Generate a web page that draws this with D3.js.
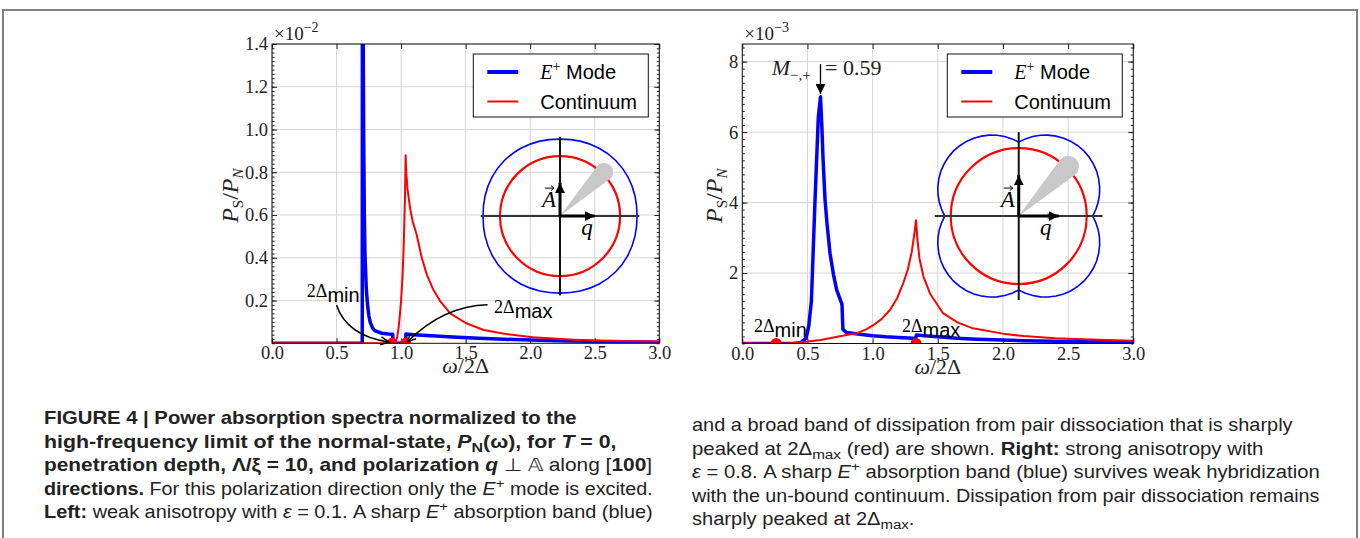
<!DOCTYPE html>
<html>
<head>
<meta charset="utf-8">
<script src="https://cdn.jsdelivr.net/npm/d3@7"></script>
<style>
  body { margin: 0; background: #fff; }
  svg { display: block; }
</style>
</head>
<body>
<div id="chart"></div>
<script>
// ---- values ----
const xTickVals = [0, 0.5, 1.0, 1.5, 2.0, 2.5, 3.0];
const leftYTickVals = [0.2, 0.4, 0.6, 0.8, 1.0, 1.2, 1.4];
const rightYTickVals = [2, 4, 6, 8];

// left panel (eps = 0.1), y in units of 1e-2
const leftModeX = [0, 0.699, 0.700, 0.705, 0.710, 0.715, 0.720, 0.730, 0.740, 0.750, 0.760, 0.780, 0.800, 0.850, 0.900, 0.935, 0.936, 1.036, 1.037, 1.10, 1.20, 1.40, 1.60, 1.80, 2.00, 2.30, 2.60, 3.00];
const leftModeY = [0, 0, 1.60, 1.60, 1.00, 0.60, 0.42, 0.26, 0.18, 0.13, 0.10, 0.07, 0.058, 0.047, 0.043, 0.042, 0, 0, 0.043, 0.040, 0.036, 0.030, 0.024, 0.019, 0.015, 0.011, 0.008, 0.005];
const leftContX = [0, 0.95, 0.96, 0.97, 0.98, 0.99, 1.00, 1.01, 1.02, 1.03, 1.035, 1.04, 1.05, 1.07, 1.09, 1.12, 1.16, 1.20, 1.25, 1.30, 1.38, 1.50, 1.64, 1.80, 2.02, 2.30, 2.54, 3.00];
const leftContY = [0, 0, 0.01, 0.03, 0.07, 0.13, 0.20, 0.30, 0.45, 0.68, 0.88, 0.80, 0.72, 0.63, 0.57, 0.51, 0.40, 0.32, 0.25, 0.20, 0.14, 0.095, 0.062, 0.045, 0.028, 0.018, 0.012, 0.008];
const leftGapX = [0.93, 1.035];   // 2Δmin, 2Δmax markers

// right panel (eps = 0.8), y in units of 1e-3
const rightModeX = [0, 0.40, 0.45, 0.49, 0.51, 0.53, 0.558, 0.583, 0.60, 0.61, 0.62, 0.635, 0.65, 0.673, 0.70, 0.724, 0.762, 0.765, 0.772, 0.80, 0.90, 1.00, 1.10, 1.20, 1.31, 1.330, 1.336, 1.40, 1.645, 1.80, 2.15, 2.40, 2.70, 3.00];
const rightModeY = [0, 0, 0.03, 0.15, 0.50, 1.20, 4.07, 6.40, 7.00, 6.20, 5.20, 4.07, 3.40, 2.56, 1.95, 1.52, 1.14, 1.10, 0.40, 0.31, 0.26, 0.22, 0.19, 0.17, 0.15, 0.15, 0.24, 0.22, 0.15, 0.12, 0.08, 0.065, 0.05, 0.04];
const rightContX = [0, 0.26, 0.35, 0.49, 0.60, 0.67, 0.80, 0.88, 0.95, 1.005, 1.07, 1.133, 1.19, 1.235, 1.27, 1.30, 1.32, 1.333, 1.345, 1.36, 1.39, 1.44, 1.54, 1.65, 1.77, 2.00, 2.16, 2.40, 2.67, 3.00];
const rightContY = [0, 0, 0.01, 0.05, 0.10, 0.15, 0.24, 0.29, 0.40, 0.52, 0.70, 0.95, 1.30, 1.71, 2.10, 2.60, 3.10, 3.50, 2.90, 2.40, 1.90, 1.42, 0.86, 0.60, 0.43, 0.28, 0.21, 0.15, 0.11, 0.08];
const rightGapX = [0.26, 1.333];

// polar insets: relative radius over one quadrant (0..90 deg)
const leftInsetBlueQuad = [1.0, 1.008, 1.018, 1.022, 1.018, 1.008, 1.0];          // every 15 deg
const leftInsetRed = 0.78;
const rightInsetBlueQuad = [0.961, 1.006, 1.048, 1.086, 1.118, 1.145, 1.168, 1.183, 1.192, 1.196,
                            1.192, 1.183, 1.168, 1.145, 1.118, 1.086, 1.048, 1.006, 0.961]; // every 5 deg
const rightInsetRed = 0.883;

const legendLabels = ["Mode", "Continuum"];

const captionLeft = [
  [{t: "FIGURE 4 | Power absorption spectra normalized to the", b: 1}],
  [{t: "high-frequency limit of the normal-state, ", b: 1}, {t: "P", b: 1, i: 1}, {t: "N", b: 1, sub: 1}, {t: "(ω), for ", b: 1}, {t: "T", b: 1, i: 1}, {t: " = 0,", b: 1}],
  [{t: "penetration depth, Λ/ξ = 10, and polarization ", b: 1}, {t: "q", b: 1, i: 1}, {t: " ⊥ 𝔸 along "}, {t: "["}, {t: "100", b: 1}, {t: "]"}],
  [{t: "directions.", b: 1}, {t: " For this polarization direction only the "}, {t: "E", i: 1}, {t: "+", sup: 1}, {t: " mode is excited."}],
  [{t: "Left:", b: 1}, {t: " weak anisotropy with "}, {t: "ε", i: 1}, {t: " = 0.1. A sharp "}, {t: "E", i: 1}, {t: "+", sup: 1}, {t: " absorption band (blue)"}]
];
const captionRight = [
  [{t: "and a broad band of dissipation from pair dissociation that is sharply"}],
  [{t: "peaked at 2Δ"}, {t: "max", sub: 1}, {t: " (red) are shown. "}, {t: "Right:", b: 1}, {t: " strong anisotropy with"}],
  [{t: "ε", i: 1}, {t: " = 0.8. A sharp "}, {t: "E", i: 1}, {t: "+", sup: 1}, {t: " absorption band (blue) survives weak hybridization"}],
  [{t: "with the un-bound continuum. Dissipation from pair dissociation remains"}],
  [{t: "sharply peaked at 2Δ"}, {t: "max", sub: 1}, {t: "."}]
];
const captionLeftWidths = [533, 573, 609, 609, 609];
const captionRightWidths = [601, 572, 628, 628, null];

const width = 1360, height = 538;
const serif = "'Liberation Serif', 'DejaVu Serif', serif";
const sans = "'Liberation Sans', Arial, sans-serif";
const BLUE = "#0000ff", RED = "#ff0000";

const svg = d3.select("#chart").append("svg")
    .attr("width", width)
    .attr("height", height);

// figure frame
svg.append("rect")
    .attr("x", 3).attr("y", 10)
    .attr("width", 1354).attr("height", 560)
    .attr("fill", "none")
    .attr("stroke", "#7f7f7f")
    .attr("stroke-width", 2);

const defs = svg.append("defs");
defs.append("marker")
    .attr("id", "open-head")
    .attr("viewBox", "0 0 10 10").attr("refX", 9).attr("refY", 5)
    .attr("markerWidth", 10).attr("markerHeight", 10)
    .attr("markerUnits", "userSpaceOnUse")
    .attr("orient", "auto")
    .append("path").attr("d", "M1,1 L9,5 L1,9")
    .attr("fill", "none").attr("stroke", "#000").attr("stroke-width", 1.5);
defs.append("marker")
    .attr("id", "solid-head")
    .attr("viewBox", "0 0 10 10").attr("refX", 10).attr("refY", 5)
    .attr("markerWidth", 10).attr("markerHeight", 10)
    .attr("markerUnits", "userSpaceOnUse")
    .attr("orient", "auto")
    .append("path").attr("d", "M0,0 L10,5 L0,10 Z").attr("fill", "#000");

function zip(xs, ys) { return xs.map((x, i) => ({x: x, y: ys[i]})); }

function drawPanel(cfg) {
    const g = svg.append("g");
    const x = d3.scaleLinear().domain([0, 3]).range([cfg.left, cfg.right]);
    const y = d3.scaleLinear().domain([0, cfg.ymax]).range([cfg.bottom, cfg.top]);
    const w = cfg.right - cfg.left, h = cfg.bottom - cfg.top;

    defs.append("clipPath").attr("id", cfg.id + "-clip")
        .append("rect").attr("x", cfg.left).attr("y", cfg.top)
        .attr("width", w).attr("height", h);

    // grid
    g.append("g").selectAll("line").data(xTickVals).join("line")
        .attr("x1", d => x(d)).attr("x2", d => x(d))
        .attr("y1", cfg.top).attr("y2", cfg.bottom)
        .attr("stroke", "#d6d6d6").attr("stroke-width", 1);
    g.append("g").selectAll("line").data(cfg.yTicks).join("line")
        .attr("x1", cfg.left).attr("x2", cfg.right)
        .attr("y1", d => y(d)).attr("y2", d => y(d))
        .attr("stroke", "#d6d6d6").attr("stroke-width", 1);

    // axes (ticks inside)
    g.append("g").attr("transform", `translate(0,${cfg.bottom})`)
        .call(d3.axisBottom(x).tickValues(xTickVals).tickSize(-5).tickPadding(3).tickFormat(d3.format(".1f")));
    g.append("g").attr("transform", `translate(0,${cfg.top})`)
        .call(d3.axisTop(x).tickValues(xTickVals).tickSize(-5).tickFormat(""));
    g.append("g").attr("transform", `translate(${cfg.left},0)`)
        .call(d3.axisLeft(y).tickValues(cfg.yTicks).tickSize(-5).tickPadding(4).tickFormat(cfg.yFormat));
    g.append("g").attr("transform", `translate(${cfg.right},0)`)
        .call(d3.axisRight(y).tickValues(cfg.yTicks).tickSize(-5).tickFormat(""));
    g.append("g").attr("transform", `translate(${cfg.left},0)`)
        .call(d3.axisLeft(y).tickValues(y.ticks(cfg.minorCount)).tickSize(-2.5).tickFormat(""));
    g.append("g").attr("transform", `translate(${cfg.right},0)`)
        .call(d3.axisRight(y).tickValues(y.ticks(cfg.minorCount)).tickSize(-2.5).tickFormat(""));
    g.selectAll(".domain").remove();
    g.selectAll(".tick line").attr("stroke", "#222");
    g.selectAll(".tick text").attr("font-family", serif).attr("font-size", 18.5).attr("fill", "#222");

    // data lines
    const line = d3.line().x(d => x(d.x)).y(d => y(d.y));
    const plot = g.append("g").attr("clip-path", `url(#${cfg.id}-clip)`);
    plot.append("path").datum(zip(cfg.modeX, cfg.modeY))
        .attr("d", line).attr("fill", "none").attr("stroke", BLUE)
        .attr("stroke-width", 3.5).attr("stroke-linejoin", "round");
    plot.append("path").datum(zip(cfg.contX, cfg.contY))
        .attr("d", line).attr("fill", "none").attr("stroke", RED)
        .attr("stroke-width", 2).attr("stroke-linejoin", "round");
    plot.selectAll("circle").data(cfg.gapX).join("circle")
        .attr("cx", d => x(d)).attr("cy", y(0)).attr("r", 5.5).attr("fill", RED);

    // spines
    g.append("rect").attr("x", cfg.left).attr("y", cfg.top)
        .attr("width", w).attr("height", h)
        .attr("fill", "none").attr("stroke", "#111").attr("stroke-width", 1);

    // offset label x10^n
    const off = g.append("text").attr("x", cfg.left + 2).attr("y", cfg.top - 4)
        .attr("font-family", serif).attr("font-size", 19).attr("fill", "#222");
    off.append("tspan").text("×10");
    off.append("tspan").attr("dy", -8).attr("font-size", 14).text(cfg.exponent);

    // axis labels
    const xl = g.append("text").attr("x", (cfg.left + cfg.right) / 2).attr("y", cfg.bottom + 30)
        .attr("text-anchor", "middle").attr("font-family", serif).attr("font-size", 22).attr("fill", "#222");
    xl.append("tspan").attr("font-style", "italic").text("ω");
    xl.append("tspan").text("/2Δ");

    const yl = g.append("text")
        .attr("transform", `translate(${cfg.ylabelX},${(cfg.top + cfg.bottom) / 2 + 2}) rotate(-90)`)
        .attr("text-anchor", "middle").attr("font-family", serif).attr("font-size", 24)
        .attr("font-style", "italic").attr("fill", "#222");
    yl.append("tspan").text("P");
    yl.append("tspan").attr("dy", 5).attr("font-size", 15).attr("font-style", "normal").text("S");
    yl.append("tspan").attr("dy", -5).attr("font-style", "normal").text("/");
    yl.append("tspan").text("P");
    yl.append("tspan").attr("dy", 5).attr("font-size", 15).text("N");

    // legend
    const lg = g.append("g");
    lg.append("rect").attr("x", cfg.right - 186).attr("y", cfg.top + 10)
        .attr("width", 175).attr("height", 63)
        .attr("fill", "#fff").attr("stroke", "#111").attr("stroke-width", 1);
    [[BLUE, 4], [RED, 2]].forEach((s, i) => {
        const ly = cfg.top + 28 + i * 29.5;
        lg.append("line").attr("x1", cfg.right - 172).attr("x2", cfg.right - 141)
            .attr("y1", ly).attr("y2", ly).attr("stroke", s[0]).attr("stroke-width", s[1]);
        const t = lg.append("text").attr("x", cfg.right - 119).attr("y", ly + 7)
            .attr("font-family", sans).attr("font-size", 20).attr("fill", "#000");
        if (i === 0) {
            t.append("tspan").attr("font-family", serif).attr("font-style", "italic").text("E");
            t.append("tspan").attr("font-family", serif).attr("font-size", 14).attr("dy", -8).text("+");
            t.append("tspan").attr("dy", 8).text(" " + legendLabels[0]);
        } else {
            t.text(legendLabels[1]);
        }
    });

    return {g: g, x: x, y: y};
}

function delta2(g, px, py, sub) {
    const t = g.append("text").attr("x", px).attr("y", py).attr("fill", "#000");
    t.append("tspan").attr("font-family", serif).attr("font-size", 18).text("2Δ");
    t.append("tspan").attr("font-family", sans).attr("font-size", 20).attr("dy", 5).text(sub);
}

function curvedArrow(g, p0, c, p1) {
    const p = d3.path();
    p.moveTo(p0[0], p0[1]);
    p.quadraticCurveTo(c[0], c[1], p1[0], p1[1]);
    g.append("path").attr("d", p.toString()).attr("fill", "none")
        .attr("stroke", "#000").attr("stroke-width", 1.6)
        .attr("marker-end", "url(#open-head)");
}

function drawInset(g, cx, cy, quad, stepDeg, redR, axisLen, tear, vecLen, curve) {
    const s = d3.scaleLinear().domain([0, 1]).range([0, 77]);
    const ig = g.append("g").attr("transform", `translate(${cx},${cy})`);
    // full turn from one quadrant
    const pts = [];
    for (let q = 0; q < 4; q++) {
        quad.forEach((r, i) => {
            if (i === quad.length - 1) return;
            pts.push({a: (q * 90 + i * stepDeg) * Math.PI / 180, r: r});
        });
    }
    const radial = d3.lineRadial().angle(d => d.a).radius(d => s(d.r)).curve(curve);
    ig.append("path").attr("d", radial(pts)).attr("fill", "none").attr("stroke", BLUE).attr("stroke-width", 1.6);
    ig.append("circle").attr("r", s(redR)).attr("fill", "none").attr("stroke", RED).attr("stroke-width", 2.2);
    // axes
    ig.append("line").attr("x1", -s(axisLen)).attr("x2", s(axisLen)).attr("stroke", "#333").attr("stroke-width", 2);
    ig.append("line").attr("y1", -s(axisLen)).attr("y2", s(axisLen)).attr("stroke", "#111").attr("stroke-width", 2);
    // tear drop cone
    const d = s(tear[0]), r = s(tear[1]);
    const phi = -Math.PI / 4, alpha = Math.asin(r / d), L = Math.sqrt(d * d - r * r);
    const t1 = [L * Math.cos(phi - alpha), L * Math.sin(phi - alpha)];
    const t2 = [L * Math.cos(phi + alpha), L * Math.sin(phi + alpha)];
    ig.append("path")
        .attr("d", `M0,0 L${t1[0]},${t1[1]} A${r},${r} 0 1 1 ${t2[0]},${t2[1]} Z`)
        .attr("fill", "#c8c8c8");
    // vectors
    ig.append("line").attr("x1", 0).attr("y1", 0).attr("x2", 0).attr("y2", -s(vecLen[0]))
        .attr("stroke", "#000").attr("stroke-width", 3).attr("marker-end", "url(#solid-head)");
    ig.append("line").attr("x1", 0).attr("y1", 0).attr("x2", s(vecLen[1])).attr("y2", 0)
        .attr("stroke", "#000").attr("stroke-width", 3).attr("marker-end", "url(#solid-head)");
    // labels with vector arrows
    const lab = (txt, lx, ly) => {
        ig.append("text").attr("x", lx).attr("y", ly).attr("text-anchor", "middle")
            .attr("font-family", serif).attr("font-style", "italic").attr("font-size", 23)
            .attr("fill", "#000").text(txt);
        ig.append("path").attr("d", `M${lx - 4},${ly - 19} L${lx + 5},${ly - 19} M${lx + 2},${ly - 21.5} L${lx + 5},${ly - 19} L${lx + 2},${ly - 16.5}`)
            .attr("fill", "none").attr("stroke", "#000").attr("stroke-width", 1);
    };
    lab("A", -11, -9);
    lab("q", 27, 19);
}

// ---- left panel ----
const L = drawPanel({
    id: "left", left: 272, right: 659.3, top: 44, bottom: 343.3, ymax: 1.4,
    yTicks: leftYTickVals, yFormat: d3.format(".1f"), minorCount: 70, exponent: "−2",
    modeX: leftModeX, modeY: leftModeY, contX: leftContX, contY: leftContY, gapX: leftGapX,
    ylabelX: 238
});
drawInset(L.g, L.x(2.231), L.y(0.595), leftInsetBlueQuad, 15, leftInsetRed, 1.03,
    [0.81, 0.117], [0.43, 0.45], d3.curveCardinalClosed);
delta2(L.g, L.x(0.27), L.y(0.215), "min");
curvedArrow(L.g, [L.x(0.50), L.y(0.178)], [L.x(0.58), L.y(0.035)], [L.x(0.905), L.y(0.006)]);
delta2(L.g, L.x(1.72), L.y(0.14), "max");
curvedArrow(L.g, [L.x(1.67), L.y(0.18)], [L.x(1.33), L.y(0.175)], [L.x(1.05), L.y(0.008)]);

// ---- right panel ----
const R = drawPanel({
    id: "right", left: 742.3, right: 1133.3, top: 44, bottom: 343.5, ymax: 8.5,
    yTicks: rightYTickVals, yFormat: d3.format("d"), minorCount: 42, exponent: "−3",
    modeX: rightModeX, modeY: rightModeY, contX: rightContX, contY: rightContY, gapX: rightGapX,
    ylabelX: 722
});
drawInset(R.g, R.x(2.121), R.y(3.617), rightInsetBlueQuad, 5, rightInsetRed, 1.09,
    [0.91, 0.139], [0.53, 0.52], d3.curveLinearClosed);
delta2(R.g, R.x(0.09), R.y(0.33), "min");
delta2(R.g, R.x(1.225), R.y(0.33), "max");

// M_{-,+} annotation with arrow onto the E+ peak
const mt = R.g.append("text").attr("x", R.x(0.225)).attr("y", R.y(7.62))
    .attr("font-family", serif).attr("font-size", 22).attr("fill", "#222");
mt.append("tspan").attr("font-style", "italic").text("M");
mt.append("tspan").attr("font-size", 15).attr("dy", 5).text("−,+");
R.g.append("text").attr("x", R.x(0.635)).attr("y", R.y(7.62))
    .attr("font-family", serif).attr("font-size", 22).attr("fill", "#222").text("= 0.59");
R.g.append("line").attr("x1", R.x(0.60)).attr("x2", R.x(0.60))
    .attr("y1", R.y(7.93)).attr("y2", R.y(7.08))
    .attr("stroke", "#000").attr("stroke-width", 1.3).attr("marker-end", "url(#solid-head)");

// ---- caption ----
function captionLine(parts) {
    const t = svg.append("text").attr("x", 0).attr("y", 0)
        .attr("font-family", sans).attr("font-size", 18).attr("fill", "#222");
    let shift = 0;
    parts.forEach(p => {
        const ts = t.append("tspan").text(p.t);
        if (p.b) ts.attr("font-weight", "bold");
        if (p.i) ts.attr("font-style", "italic");
        const target = p.sub ? 4 : p.sup ? -7 : 0;
        if (target !== shift) { ts.attr("dy", target - shift); shift = target; }
        if (p.sub || p.sup) ts.attr("font-size", 13.5);
    });
    return t;
}
function drawCaption(x0, y0, lines, widths) {
    const items = lines.map((parts, i) => {
        const t = captionLine(parts);
        return {t: t, w: t.node().getComputedTextLength(), target: widths[i], y: y0 + i * 23.5};
    });
    const mean = d3.mean(items.filter(d => d.target), d => d.target / d.w);
    items.forEach(d => {
        const k = d.target ? d.target / d.w : mean;
        d.t.attr("transform", `translate(${x0},${d.y}) scale(${k},1)`);
    });
}
drawCaption(44, 424, captionLeft, captionLeftWidths);
drawCaption(692, 431, captionRight, captionRightWidths);
</script>
</body>
</html>
